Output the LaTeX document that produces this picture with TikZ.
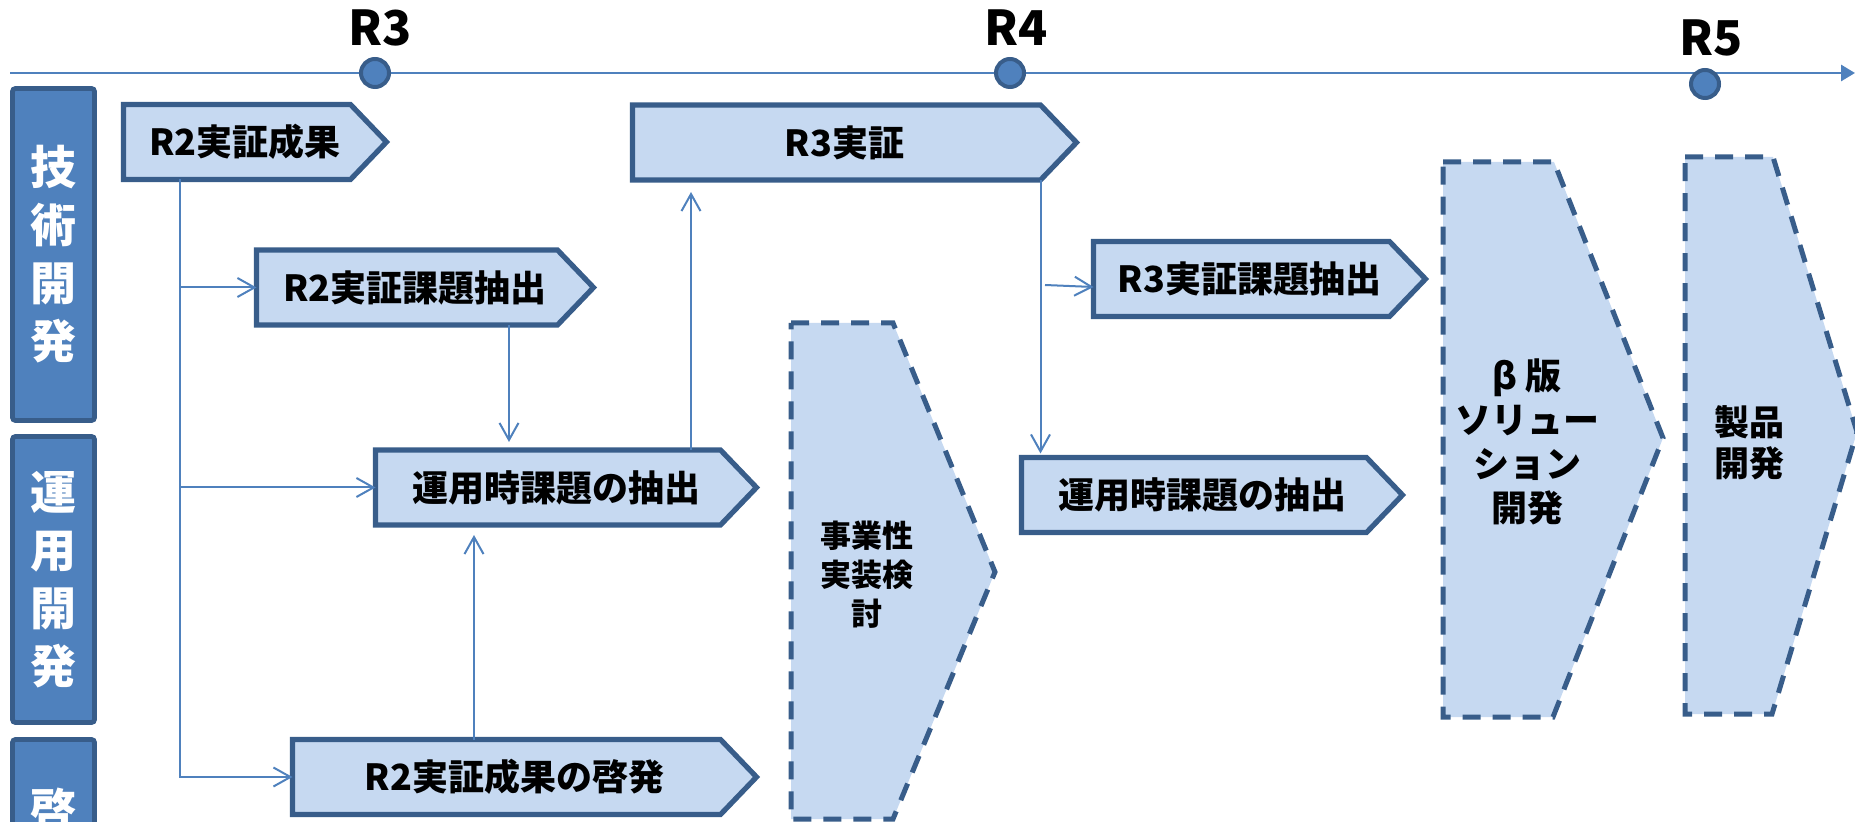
\documentclass[tikz,border=0pt]{standalone}
\usepackage{fontspec}
\setmainfont{Noto Sans CJK JP}[BoldFont={Noto Sans CJK JP Black}]
\usetikzlibrary{arrows.meta,backgrounds}
\definecolor{fillc}{HTML}{C6D9F1}
\definecolor{bordc}{HTML}{385D8A}
\definecolor{linec}{HTML}{4F81BD}
\tikzset{
  chev/.style={rectangle, minimum height=37.5pt, inner sep=0pt, outer sep=0pt,
    font=\bfseries\fontsize{18}{22}\selectfont},
  chevshape/.style={draw=bordc, line width=2.6pt, fill=fillc, line join=miter},
  dshape/.style={draw=bordc, line width=2.5pt, fill=fillc, dash pattern=on 9pt off 6pt},
  lane/.style={draw=bordc, fill=linec, line width=2.4pt, rounded corners=1.5pt,
    minimum width=41pt, inner sep=0pt, text=white, align=center,
    font=\bfseries\fontsize{23}{29}\selectfont},
  lanetxt/.style={text=white, align=center, font=\bfseries\fontsize{23}{29}\selectfont},
  conn/.style={draw=linec, line width=1pt, -{Straight Barb[length=8.5pt,width=9.5pt]}},
  ms/.style={circle, draw=bordc, fill=linec, line width=2pt, minimum size=14pt, inner sep=0pt},
  mslabel/.style={font=\bfseries\fontsize{24}{24}\selectfont, inner sep=0pt},
  dtext/.style={align=center, inner sep=0pt},
}
\begin{document}
\begin{tikzpicture}[x=0.5pt,y=-0.5pt]
\useasboundingbox (0,0) rectangle (1855,822);
\clip (0,0) rectangle (1855,822);

% timeline
\coordinate (tl0) at (10,73);
\coordinate (tl1) at (1855,73);
\draw[line width=1.4pt, linec, -{Triangle[length=7pt,width=8pt]}] (tl0) -- (tl1);
\node[ms] (m3) at (375,73) {};
\node[ms] (m4) at (1010,73) {};
\node[ms] (m5) at (1705,84) {};
\node[mslabel] (l3) at (380,28) {R3};
\node[mslabel] (l4) at (1016,28) {R4};
\node[mslabel] (l5) at (1711,38) {R5};

% lanes
\node[lane, minimum height=166pt] (lt) at (53.5,254.5) {技\\術\\開\\発};
\node[lane, minimum height=143pt] (lo) at (53.5,579.5) {運\\用\\開\\発};
\node[lane, minimum height=150pt] (le) at (53.5,889.5) {};
\node[lanetxt] (lex) at (53.5,810) {啓};

% dashed phases
\draw[dshape] (791,323) -- (893,323) -- (995,572) -- (893,819) -- (791,819) -- cycle;
\node[dtext, font=\bfseries\fontsize{15.5}{19.5}\selectfont] (biz) at (867,575) {事業性\\実装検\\討};
\draw[dshape] (1443,162) -- (1554,162) -- (1663,438) -- (1553,717) -- (1443,717) -- cycle;
\node[dtext, font=\bfseries\fontsize{18}{22}\selectfont] (beta) at (1527,442) {β\hspace{0.25em}版\\ソリュー\\ション\\開発};
\draw[dshape] (1685,157) -- (1773,157) -- (1857,432) -- (1772,714) -- (1685,714) -- cycle;
\node[dtext, font=\bfseries\fontsize{17.5}{20.5}\selectfont] (prod) at (1749,443) {製品\\開発};

% chevron nodes
\node[chev, minimum width=113.5pt] (r2res) at (237,142) {\hspace*{8pt}R2実証成果};
\node[chev, minimum width=150.5pt] (r2iss) at (407,287.5) {\hspace*{8pt}R2実証課題抽出};
\node[chev, minimum width=172.5pt] (ops1) at (548,487.5) {\hspace*{8pt}運用時課題の抽出};
\node[chev, minimum width=214pt] (r2enl) at (506.5,777) {\hspace*{8pt}R2実証成果の啓発};
\node[chev, minimum width=204pt] (r3) at (836.5,142.5) {\hspace*{8pt}R3実証};
\node[chev, minimum width=148pt] (r3iss) at (1241.5,279) {\hspace*{8pt}R3実証課題抽出};
\node[chev, minimum width=172.5pt] (ops2) at (1194,495) {\hspace*{8pt}運用時課題の抽出};

\begin{scope}[on background layer]
\foreach \n in {r2res,r2iss,ops1,r2enl,r3,r3iss,ops2}{
  \draw[chevshape] (\n.north west) -- (\n.north east) -- ([xshift=18pt]\n.east)
    -- (\n.south east) -- (\n.south west) -- cycle;
}
\end{scope}

% connectors
\coordinate (t1) at (180,777);
\coordinate (x509) at (509,0);
\coordinate (x474) at (474,0);
\coordinate (x691) at (691,0);
\coordinate (b3) at (1045,285);
\draw[conn] (r2res.south -| t1) |- (r2enl.west);
\draw[conn] (r2iss.west -| t1) -- (r2iss.west);
\draw[conn] (ops1.west -| t1) -- (ops1.west);
\draw[conn, shorten >=4pt] (r2iss.south -| x509) -- (ops1.north -| x509);
\draw[conn, shorten >=5pt] (r2enl.north -| x474) -- (ops1.south -| x474);
\draw[conn, shorten >=6pt] (ops1.north -| x691) -- (r3.south -| x691);
\draw[conn, shorten >=2pt] (r3.south east) -- (ops2.north -| r3.south east);
\draw[conn] (b3) -- ([yshift=-4pt]r3iss.west);
\end{tikzpicture}
\end{document}
